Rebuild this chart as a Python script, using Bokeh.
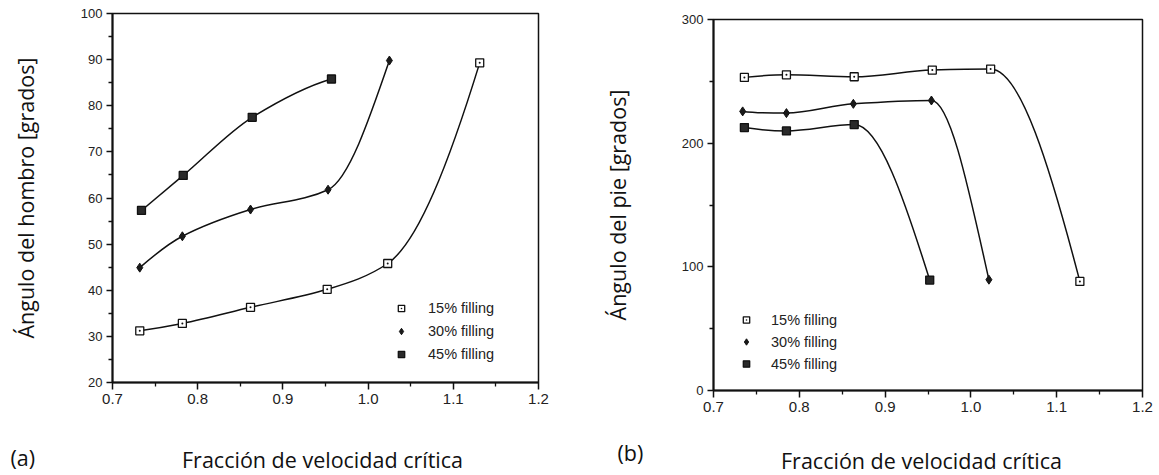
import numpy as np
from bokeh.plotting import figure
from bokeh.layouts import row, column
from bokeh.models import (Range1d, FixedTicker, NumeralTickFormatter, Label, Legend,
                          LegendItem, Spacer)
from bokeh.embed import file_html
from bokeh.resources import INLINE

# ---------------- data ----------------
# (a) shoulder angle vs fraction of critical speed
a15_x = [0.732, 0.782, 0.862, 0.952, 1.023, 1.131]
a15_y = [31.2, 32.8, 36.3, 40.2, 45.8, 89.3]
a30_x = [0.732, 0.782, 0.862, 0.953, 1.025]
a30_y = [44.9, 51.7, 57.5, 61.8, 89.8]
a45_x = [0.734, 0.783, 0.864, 0.957]
a45_y = [57.3, 64.9, 77.5, 85.8]

# (b) toe angle vs fraction of critical speed
b15_x = [0.736, 0.785, 0.864, 0.955, 1.023, 1.127]
b15_y = [253.2, 255.3, 253.7, 259.1, 259.9, 88.2]
b30_x = [0.734, 0.785, 0.863, 0.954, 1.021]
b30_y = [225.7, 224.3, 231.8, 234.5, 89.6]
b45_x = [0.736, 0.785, 0.864, 0.952]
b45_y = [212.6, 209.9, 215.0, 89.3]

series_labels = ["15% filling", "30% filling", "45% filling"]
x_ticks = [0.7, 0.8, 0.9, 1.0, 1.1, 1.2]
x_minor = [0.75, 0.85, 0.95, 1.05, 1.15]
a_y_ticks = [20, 30, 40, 50, 60, 70, 80, 90, 100]
a_y_minor = [25, 35, 45, 55, 65, 75, 85, 95]
b_y_ticks = [0, 100, 200, 300]
b_y_minor = [50, 150, 250]

x_title = "Fracción de velocidad crítica"
a_y_title = "Ángulo del hombro [grados]"
b_y_title = "Ángulo del pie [grados]"
tags = ["(a)", "(b)"]

TITLE_FONT = "Open Sans"
TITLE_SIZE = "21.5px"
TICK_FONT = "Liberation Sans"
INK = "#111111"


def pchip_bezier(x, y):
    """Monotone cubic (PCHIP) through the points, as Bezier segments."""
    x = np.asarray(x, float)
    y = np.asarray(y, float)
    h = np.diff(x)
    d = np.diff(y) / h
    n = len(x)
    m = np.zeros(n)
    for k in range(1, n - 1):
        if d[k - 1] * d[k] <= 0:
            m[k] = 0.0
        else:
            w1 = 2 * h[k] + h[k - 1]
            w2 = h[k] + 2 * h[k - 1]
            m[k] = (w1 + w2) / (w1 / d[k - 1] + w2 / d[k])

    def end(h0, h1, d0, d1):
        mm = ((2 * h0 + h1) * d0 - h0 * d1) / (h0 + h1)
        if np.sign(mm) != np.sign(d0):
            mm = 0.0
        elif np.sign(d0) != np.sign(d1) and abs(mm) > 3 * abs(d0):
            mm = 3 * d0
        return mm

    m[0] = end(h[0], h[1], d[0], d[1])
    m[-1] = end(h[-1], h[-2], d[-1], d[-2])
    return dict(
        x0=x[:-1], y0=y[:-1], x1=x[1:], y1=y[1:],
        cx0=x[:-1] + h / 3, cy0=y[:-1] + m[:-1] * h / 3,
        cx1=x[1:] - h / 3, cy1=y[1:] - m[1:] * h / 3,
    )


def make_panel(width, height, borders, y_range, y_ticks, y_minor, y_title,
               series, legend_loc, legend_lh, legend_standoff, y_title_standoff):
    bl, br, bt, bb = borders
    p = figure(width=width, height=height, x_range=Range1d(0.7, 1.2),
               y_range=Range1d(*y_range), output_backend="svg",
               toolbar_location=None, min_border_left=bl, min_border_right=br,
               min_border_top=bt, min_border_bottom=bb)
    p.background_fill_color = "white"
    p.border_fill_color = "white"
    p.grid.visible = False
    p.outline_line_color = INK
    p.outline_line_width = 1.5

    p.xaxis.ticker = FixedTicker(ticks=x_ticks, minor_ticks=x_minor)
    p.xaxis.formatter = NumeralTickFormatter(format="0.0")
    p.yaxis.ticker = FixedTicker(ticks=y_ticks, minor_ticks=y_minor)

    for ax in (p.xaxis, p.yaxis):
        ax.axis_line_width = 2
        ax.axis_line_color = INK
        ax.major_tick_line_color = INK
        ax.major_tick_line_width = 1.5
        ax.major_tick_in = 0
        ax.minor_tick_line_color = INK
        ax.minor_tick_line_width = 1.3
        ax.minor_tick_in = 0
        ax.minor_tick_out = 4
        ax.major_label_text_font = TICK_FONT
        ax.major_label_text_color = "#222222"
    p.xaxis.major_tick_out = 7
    p.yaxis.major_tick_out = 6
    p.xaxis.major_label_standoff = 4
    p.yaxis.major_label_standoff = 4
    p.xaxis.major_label_text_font_size = "15px"
    p.yaxis.major_label_text_font_size = "13px"
    p.yaxis.axis_label = y_title
    p.yaxis.axis_label_standoff = y_title_standoff
    p.yaxis.axis_label_text_font = TITLE_FONT
    p.yaxis.axis_label_text_font_style = "normal"
    p.yaxis.axis_label_text_font_size = TITLE_SIZE
    p.yaxis.axis_label_text_color = INK

    markers = [
        dict(marker="square_dot", size=8, fill_color="white", line_color=INK, line_width=1.3),
        dict(marker="diamond", size=9, fill_color="#1a1a1a", line_color=INK, line_width=1),
        dict(marker="square", size=8, fill_color="#2a2a2a", line_color=INK, line_width=1.3),
    ]
    items = []
    for (sx, sy), mk, lab in zip(series, markers, series_labels):
        p.bezier(line_color=INK, line_width=1.5, **pchip_bezier(sx, sy))
        r = p.scatter(sx, sy, **mk)
        items.append(LegendItem(label=lab, renderers=[r]))

    legend = Legend(items=items, location=legend_loc, padding=0, margin=0,
                    spacing=3, label_height=legend_lh, glyph_height=legend_lh,
                    glyph_width=16, label_standoff=legend_standoff,
                    background_fill_alpha=0, border_line_alpha=0,
                    label_text_font=TICK_FONT, label_text_font_size="14.5px",
                    label_text_color="#222222")
    p.add_layout(legend)
    return p


# both panels share top/bottom border sizes; the right one is shifted down by a spacer
pa = make_panel(596, 428, (112, 58, 13, 46), (20, 100), a_y_ticks, a_y_minor, a_y_title,
                [(a15_x, a15_y), (a30_x, a30_y), (a45_x, a45_y)],
                (281, 18), 20, 19, 38)
pb = make_panel(563, 430, (117, 17, 13, 46), (0, 300), b_y_ticks, b_y_minor, b_y_title,
                [(b15_x, b15_y), (b30_x, b30_y), (b45_x, b45_y)],
                (25, 17), 19, 17, 47)

# caption strip under both charts (x-axis titles and panel tags), in page pixels
cap = figure(width=1159, height=39, x_range=Range1d(0, 1159), y_range=Range1d(475, 436),
             output_backend="svg", toolbar_location=None, x_axis_location=None,
             y_axis_location=None, min_border=0)
cap.grid.visible = False
cap.outline_line_color = None
cap.background_fill_color = "white"
cap.border_fill_color = "white"
for txt, xx, yy, al in [(tags[0], 10, 457, "left"), (x_title, 322, 459, "center"),
                        (tags[1], 617, 452, "left"), (x_title, 921, 460, "center")]:
    cap.add_layout(Label(x=xx, y=yy, text=txt, text_font=TITLE_FONT, text_font_size=TITLE_SIZE,
                         text_color=INK, text_align=al, text_baseline="alphabetic"))

layout = column(row(pa, column(Spacer(width=563, height=6), pb)), cap)
open("out.html", "w").write(file_html(layout, INLINE))
